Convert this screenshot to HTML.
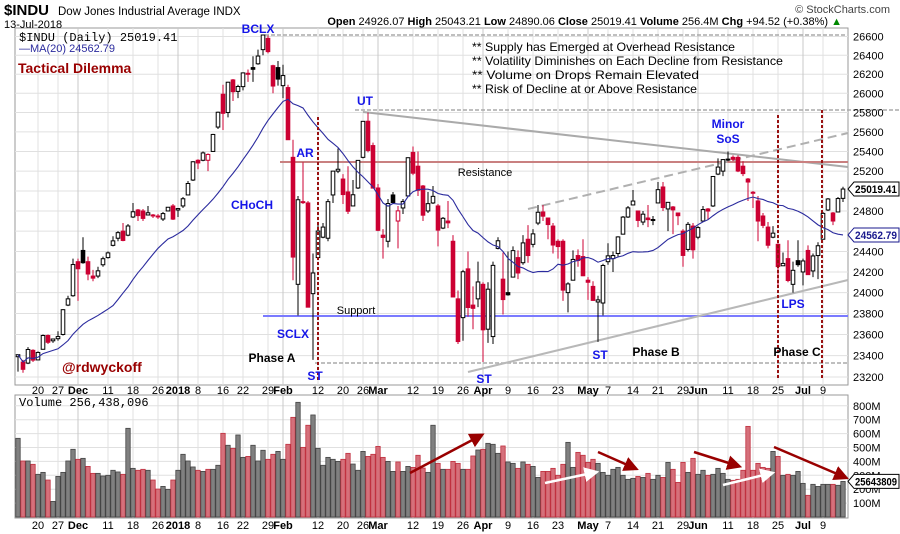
<!DOCTYPE html>
<html><head><meta charset="utf-8"><style>
body{margin:0;background:#fff;}
svg{display:block;font-family:"Liberation Sans",sans-serif;}
</style></head><body>
<svg id="chart" width="900" height="534" viewBox="0 0 900 534" xmlns="http://www.w3.org/2000/svg">
<g id="grid"></g>
<g id="annot-back"></g>
<g id="candles"></g>
<g id="vol"></g>
<g id="annot"></g>
<g id="labels"></g>
</svg>
<script>
const opens=[23390,23340,23330,23450,23360,23460,23590,23540,23560,23600,23880,23970,24300,24410,24300,24160,24160,24270,24340,24460,24530,24600,24560,24740,24810,24800,24760,24760,24750,24720,24800,24850,24810,24850,24960,25110,25310,25310,25310,25400,25650,25990,25800,26140,26020,26070,26200,26270,26310,26460,26580,26290,26270,26080,26060,25340,24080,24890,24880,23990,24340,24540,24530,24960,25200,25120,24990,24850,25030,25340,25710,25460,25030,24560,24500,24960,24700,24830,24950,25390,25250,25050,24800,24880,24850,24630,24700,24500,23940,23760,24230,23880,23940,24080,23650,23580,24430,24130,24000,24150,24340,24290,24520,24470,24680,24790,24730,24650,24500,24500,24000,24120,24360,24350,24120,24060,23910,23900,24300,24330,24380,24570,24740,24860,24800,24690,24730,24710,24880,25040,24820,24840,24780,24600,24420,24650,24540,24700,24820,24850,25170,25200,25320,25340,25340,25250,25120,24980,24900,24750,24640,24540,24470,24260,24330,24080,24310,24200,24410,24210,24360,24520,24810,24780,24790,24926];
const highs=[23410,23360,23480,23460,23440,23600,23600,23560,23630,23840,23970,24330,24330,24540,24350,24220,24250,24350,24400,24550,24600,24680,24670,24880,24820,24820,24850,24770,24770,24790,24840,24870,24830,24940,25100,25300,25320,25400,25380,25580,25810,26090,26120,26150,26090,26220,26250,26390,26460,26620,26610,26300,26340,26300,26090,25520,24950,25290,24900,24380,24680,24680,24920,25200,25430,25170,25250,25110,25310,25710,25800,25490,25070,24620,24920,24990,24850,24920,25340,25450,25400,25060,24990,25050,24870,24740,24900,24560,24020,24220,24400,24060,24300,24100,24100,24300,24540,24390,24400,24450,24410,24560,24660,24620,24860,24860,24730,24680,24520,24520,24100,24410,24420,24520,24150,24110,23970,24280,24480,24400,24550,24750,24850,25010,24800,24800,24860,24750,25090,25090,24890,24850,24780,24620,24690,24680,24650,24850,24830,25150,25330,25320,25400,25360,25360,25300,25130,25000,24950,24780,24690,24650,24480,24390,24510,24300,24510,24330,24460,24380,24490,24790,24930,24790,24940,25043];
const lows=[23250,23240,23320,23340,23360,23460,23510,23520,23540,23590,23870,23960,23920,24280,24120,24110,24140,24250,24330,24450,24500,24500,24550,24730,24700,24700,24760,24730,24720,24700,24800,24710,24740,24830,24960,25100,25220,25300,25200,25400,25630,25620,25750,25920,25950,26030,26120,26120,26300,26400,26420,26000,26080,25950,25520,24120,23780,24870,23860,23360,24340,24530,24500,24880,25180,24870,24770,24850,25020,25330,25390,25030,24600,24330,24440,24880,24430,24770,24950,25160,24950,24700,24780,24870,24450,24620,24630,23960,23510,23540,23770,23650,23860,23340,23520,23510,24420,23790,23970,24150,24130,24270,24290,24440,24660,24700,24520,24380,24330,23920,23810,24120,24250,24160,23930,23920,23530,23780,24270,24200,24350,24570,24730,24860,24640,24660,24640,24660,24880,24800,24600,24570,24660,24250,24400,24330,24520,24700,24710,24840,25160,25150,25300,25300,25190,25150,24900,24830,24500,24630,24430,24530,24050,24260,24100,24000,24250,24070,24170,24150,24130,24520,24800,24660,24790,24890];
const closes=[23409,23272,23458,23358,23430,23590,23526,23557,23580,23836,23940,24272,24231,24290,24180,24140,24211,24329,24386,24504,24585,24508,24651,24792,24754,24726,24782,24754,24746,24774,24837,24719,24824,24922,25075,25295,25283,25385,25369,25574,25803,25792,26116,26017,26071,26214,26210,26252,26392,26616,26439,26076,26149,26186,25520,24345,24912,24893,23860,24190,24601,24640,24893,25200,25219,24964,24797,24962,25309,25709,25410,25029,24608,24538,24874,24884,24801,24895,25336,25179,25007,24758,24873,24946,24610,24727,24682,23958,23533,24202,23857,23849,24103,23644,24033,24264,24505,23933,23979,24408,24190,24484,24360,24573,24787,24748,24665,24463,24448,24024,24084,24322,24311,24163,24100,23925,23930,24263,24357,24360,24543,24739,24831,24899,24706,24768,24714,24715,25013,24834,24886,24811,24753,24361,24667,24416,24635,24814,24799,25146,25241,25317,25322,25320,25201,25175,25090,24987,24700,24657,24461,24580,24252,24283,24117,24216,24271,24307,24174,24356,24456,24776,24920,24700,24924,25019.41];
const volumes=[566,403,403,379,307,321,266,112,292,321,403,487,415,422,364,314,314,295,300,336,324,307,638,350,336,343,336,266,201,220,199,266,336,451,403,360,336,328,343,343,372,602,516,494,590,429,436,516,403,480,415,451,472,415,523,717,825,501,660,734,494,372,429,415,400,415,458,381,336,472,436,451,508,429,400,328,396,328,364,357,444,352,321,660,386,343,343,400,
386,343,343,439,482,487,530,523,458,511,396,386,350,396,379,364,285,328,328,350,300,379,537,357,465,444,393,415,386,321,300,343,357,300,271,278,292,285,314,271,300,285,393,343,249,393,321,422,307,336,300,307,350,314,271,264,271,336,652,336,386,357,350,472,436,300,307,300,328,242,156,235,220,235,235,235,228,256];
const priceTicks=[23200,23400,23600,23800,24000,24200,24400,24600,24800,25000,25200,25400,25600,25800,26000,26200,26400,26600];
const volTicks=[100,200,300,400,500,600,700,800];
const xLabels=[["2017-11-20","20",0],["2017-11-27","27",0],["2017-12-01","Dec",1],["2017-12-11","11",0],["2017-12-18","18",0],["2017-12-26","26",0],["2018-01-02","2018",1],["2018-01-08","8",0],["2018-01-16","16",0],["2018-01-22","22",0],["2018-01-29","29",0],["2018-02-01","Feb",1],["2018-02-12","12",0],["2018-02-20","20",0],["2018-02-26","26",0],["2018-03-01","Mar",1],["2018-03-12","12",0],["2018-03-19","19",0],["2018-03-26","26",0],["2018-04-02","Apr",1],["2018-04-09","9",0],["2018-04-16","16",0],["2018-04-23","23",0],["2018-05-01","May",1],["2018-05-07","7",0],["2018-05-14","14",0],["2018-05-21","21",0],["2018-05-29","29",0],["2018-06-01","Jun",1],["2018-06-11","11",0],["2018-06-18","18",0],["2018-06-25","25",0],["2018-07-02","Jul",1],["2018-07-09","9",0]];

const NS="http://www.w3.org/2000/svg";
function el(tag,attrs,parent,text){const e=document.createElementNS(NS,tag);for(const k in attrs)e.setAttribute(k,attrs[k]);if(text!==undefined)e.textContent=text;(parent||document.getElementById('chart')).appendChild(e);return e;}
const holidays=["2017-11-23","2017-12-25","2018-01-01","2018-01-15","2018-02-19","2018-03-30","2018-05-28","2018-07-04"];
const dates=[];{let d=new Date(Date.UTC(2017,10,14));while(dates.length<closes.length){const s=d.toISOString().slice(0,10);const w=d.getUTCDay();if(w>0&&w<6&&holidays.indexOf(s)<0)dates.push(s);d=new Date(d.getTime()+86400000);}}
const X0=18,DX=5.0;
function xIdx(i){return X0+i*DX;}
const LK=2490,LREF=26600,YREF=36.5;
function yP(v){return YREF+(Math.log(LREF)-Math.log(v))*LK;}
function yV(v){return 517-v*0.139;}
const PL=15,PR=848,PT=28,PB=385,VT=395,VB=518;

const grid=document.getElementById('grid');
el('rect',{x:PL,y:PT,width:PR-PL,height:PB-PT,fill:'#fff',stroke:'#999'},grid);
el('rect',{x:PL,y:VT,width:PR-PL,height:VB-VT,fill:'#fff',stroke:'#999'},grid);
const lab=document.getElementById('labels');
priceTicks.forEach(t=>{const y=yP(t);
 const g=el('line',{x1:PL,x2:PR,y1:y,y2:y,stroke:'#e0e0e0'},grid);
 const tx=el('text',{x:853,y:y+4,'font-size':11,fill:'#000'},lab,String(t));});
volTicks.forEach(t=>{const y=yV(t);
 const g=el('line',{x1:PL,x2:PR,y1:y,y2:y,stroke:'#e0e0e0'},grid);
 const tx=el('text',{x:853,y:y+4,'font-size':11,fill:'#000'},lab,t+'M');});
xLabels.forEach(l=>{const i=dates.indexOf(l[0]);if(i<0)return;const x=xIdx(i);
 const g1=el('line',{x1:x,x2:x,y1:PT,y2:PB,stroke:l[2]?'#c8c8c8':'#e0e0e0'},grid);
 const g2=el('line',{x1:x,x2:x,y1:VT,y2:VB,stroke:l[2]?'#c8c8c8':'#e0e0e0'},grid);
 [394,529].forEach(yy=>{const t=el('text',{x:x,y:yy,'font-size':11,'text-anchor':'middle','font-weight':l[2]?'bold':'normal',fill:'#000'},lab,l[1]);});});

const cg=document.getElementById('candles');
const RED='#cc0033';
for(let i=0;i<closes.length;i++){const x=xIdx(i),o=opens[i],c=closes[i],h=highs[i],l=lows[i];
 const down=i>0&&c<closes[i-1];const col=down?RED:'#000';const filled=c<o;
 const w=el('line',{x1:x,x2:x,y1:yP(h),y2:yP(l),stroke:col,'stroke-width':1},cg);
 const yt=yP(Math.max(o,c)),yb=yP(Math.min(o,c));
 const r=el('rect',{x:x-1.8,y:yt,width:3.6,height:Math.max(1,yb-yt),fill:filled?col:'#fff',stroke:col,'stroke-width':1},cg);}
const ma=[];for(let i=0;i<closes.length;i++){let s=0,n=0;for(let j=Math.max(0,i-19);j<=i;j++){s+=closes[j];n++;}ma.push(s/n);}
const maLine=el('polyline',{points:ma.map((v,i)=>xIdx(i)+','+yP(v)).join(' '),fill:'none',stroke:'#2b2b9e','stroke-width':1.1},cg);


const vg=document.getElementById('vol');
for(let i=0;i<volumes.length;i++){const x=xIdx(i);const down=i>0&&closes[i]<closes[i-1];
 const r=el('rect',{x:x-2.2,y:yV(volumes[i]),width:4.4,height:517-yV(volumes[i]),fill:down?'#d5707b':'#808080',stroke:down?'#c0303f':'#444','stroke-width':0.8},vg);
 }

const ab=document.getElementById('annot-back');
const an=document.getElementById('annot');
function ln(p,x1,y1,x2,y2,st,w,dash,name){const e=el('line',{x1,y1,x2,y2,stroke:st,'stroke-width':w},p);if(dash)e.setAttribute('stroke-dasharray',dash);return e;}
ln(ab,265,35,845,35,'#aaa',1.5,'4,2','bclx-level');
ln(ab,355,110,900,110,'#aaa',1.5,'4,2','ut-level');
ln(ab,315,363,848,363,'#aaa',1.5,'4,2','st-level');
ln(ab,363,112,848,167,'#aaa',2,null,'downtrend-line');
ln(ab,280,162,848,162,'#c98080',2,null,'resistance-line');
ln(ab,263,316,848,316,'#7a7aff',2,null,'support-line');
ln(ab,468,372,848,280,'#b8b8b8',2,null,'rising-support-line');
ln(ab,528,209,848,133,'#b0b0b0',2,'9,5','rising-dashed-line');
ln(an,318,117,318,380,'#991111',2,'3,2','phase-divider-1');
ln(an,778,115,778,378,'#991111',2,'3,2','phase-divider-2');
ln(an,822,110,822,378,'#991111',2,'3,2','phase-divider-3');
function tx(p,x,y,t,size,col,bold,name,anchor){const e=el('text',{x,y,'font-size':size,fill:col,'font-weight':bold?'bold':'normal','text-anchor':anchor||'middle'},p,t);return e;}
const B='#1515e8';
tx(an,258,33,'BCLX',12,B,1,'label-bclx');
tx(an,305,157,'AR',12,B,1,'label-ar');
tx(an,252,209,'CHoCH',12,B,1,'label-choch');
tx(an,365,105,'UT',12,B,1,'label-ut');
tx(an,293,338,'SCLX',12,B,1,'label-sclx');
tx(an,272,362,'Phase A',12,'#000',1,'label-phase-a');
tx(an,315,380,'ST',12,B,1,'label-st-1');
tx(an,484,383,'ST',12,B,1,'label-st-2');
tx(an,600,359,'ST',12,B,1,'label-st-3');
tx(an,656,356,'Phase B',12,'#000',1,'label-phase-b');
tx(an,797,356,'Phase C',12,'#000',1,'label-phase-c');
tx(an,728,128,'Minor',12,B,1,'label-minor-sos');
tx(an,728,143,'SoS',12,B,1,'label-minor-sos');
tx(an,793,308,'LPS',12,B,1,'label-lps');
tx(an,485,176,'Resistance',11,'#000',0,'resistance-label');
tx(an,356,314,'Support',11,'#000',0,'support-label');
tx(an,18,73,'Tactical Dilemma',14,'#990000',1,'chart-title-note','start');
tx(an,62,372,'@rdwyckoff',14,'#990000',1,'author-handle','start');
[['** Supply has Emerged at Overhead Resistance',263,51],['** Volatility Diminishes on Each Decline from Resistance',311,65],['** Volume on Drops Remain Elevated',227,79],['** Risk of Decline at or Above Resistance',225,93]].forEach(a=>{const t=tx(an,472,a[2],a[0],12,'#000',0,'commentary-line','start');t.setAttribute('textLength',a[1]);t.setAttribute('lengthAdjust','spacingAndGlyphs');});
const defs=el('defs',{},an);
const m1=el('marker',{id:'ar1',markerWidth:6,markerHeight:6,refX:3,refY:3,orient:'auto',markerUnits:'strokeWidth'},defs);el('path',{d:'M0,0 L6,3 L0,6 z',fill:'#990000'},m1);
const m2=el('marker',{id:'ar2',markerWidth:6,markerHeight:6,refX:3,refY:3,orient:'auto',markerUnits:'strokeWidth'},defs);el('path',{d:'M0,0 L6,3 L0,6 z',fill:'#fff'},m2);
function arr(x1,y1,x2,y2,white,name){const e=ln(an,x1,y1,x2,y2,white?'#fff':'#990000',2.5,null,name);e.setAttribute('marker-end',white?'url(#ar2)':'url(#ar1)');}
arr(410,473,478,437,0,'volume-arrow-up');
arr(545,483,592,473,1,'volume-arrow-white');
arr(598,452,632,467,0,'volume-arrow-down');
arr(694,452,735,465,0,'volume-arrow-down');
arr(723,485,768,474,1,'volume-arrow-white');
arr(774,447,842,476,0,'volume-arrow-down');

tx(lab,4,15,'$INDU',15,'#000',1,'symbol','start');
tx(lab,58,15,'Dow Jones Industrial Average INDX',11.5,'#000',0,'index-name','start');
tx(lab,4,28,'13-Jul-2018',11,'#000',0,'chart-date','start');
tx(lab,890,13,'© StockCharts.com',11,'#444',0,'watermark','end');
const hdr=el('text',{x:842,y:25,'font-size':11,'text-anchor':'end',fill:'#000'},lab);

hdr.innerHTML='<tspan font-weight="bold">Open</tspan> 24926.07  <tspan font-weight="bold">High</tspan> 25043.21  <tspan font-weight="bold">Low</tspan> 24890.06  <tspan font-weight="bold">Close</tspan> 25019.41  <tspan font-weight="bold">Volume</tspan> 256.4M  <tspan font-weight="bold">Chg</tspan> +94.52 (+0.38%) <tspan fill="#080">▲</tspan>';
tx(lab,19,41,'$INDU (Daily) 25019.41',12,'#000',0,'legend-price','start').setAttribute('font-family','Liberation Mono, monospace');
tx(lab,19,52,'—MA(20) 24562.79',11,'#2b2b9e',0,'legend-ma','start');
tx(lab,19,406,'Volume 256,438,096',12,'#000',0,'legend-volume','start').setAttribute('font-family','Liberation Mono, monospace');
function tag(y,text,col,name){const g=el('g',{},lab);
 el('path',{d:`M848,${y} L854,${y-7} L899,${y-7} L899,${y+7} L854,${y+7} Z`,fill:'#fff',stroke:col},g);
 el('text',{x:855,y:y+4,'font-size':11,'font-weight':'bold',fill:col,textLength:42,lengthAdjust:'spacingAndGlyphs'},g,text);}
tag(yP(closes[closes.length-1]),'25019.41','#000','last-price-tag');
tag(yP(ma[ma.length-1]),'24562.79','#1a1a8e','ma-value-tag');
tag(yV(volumes[volumes.length-1]),'25643809','#000','volume-value-tag');
</script>
</body></html>
